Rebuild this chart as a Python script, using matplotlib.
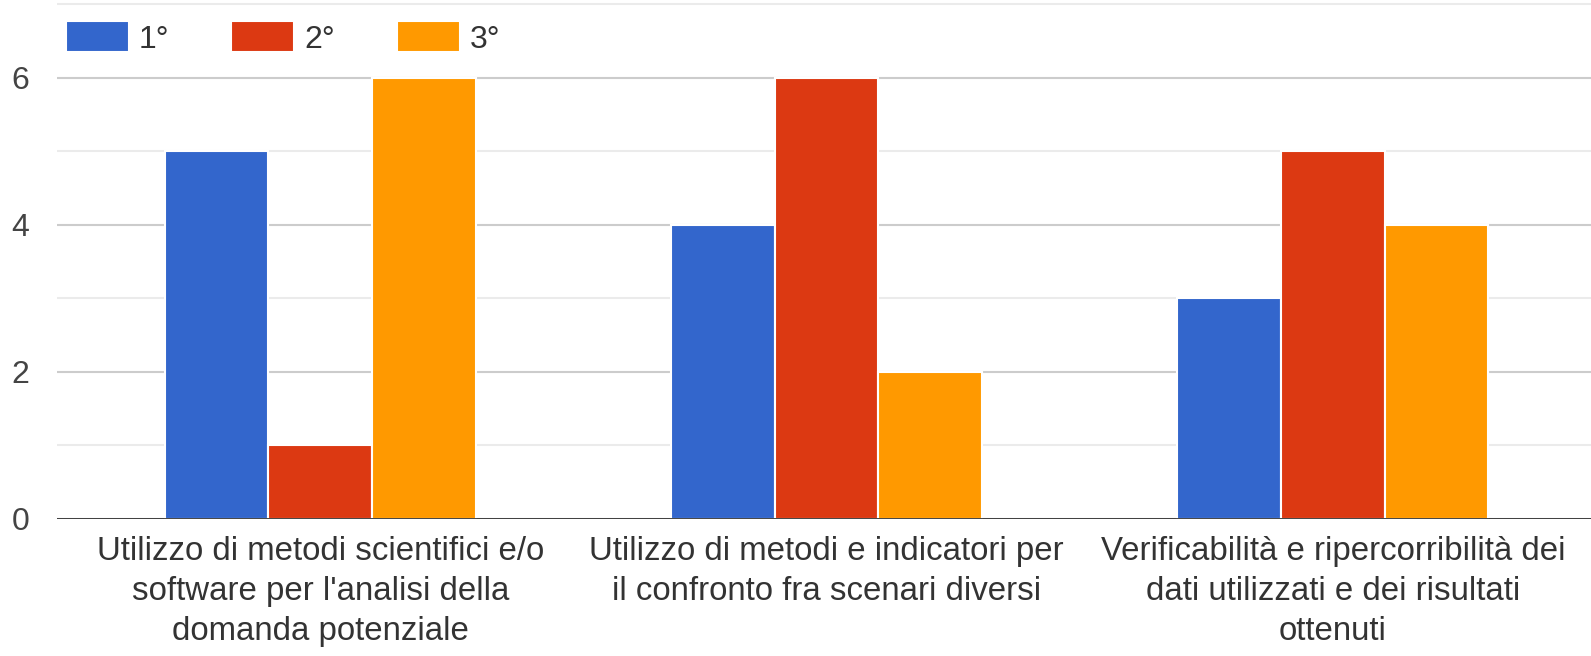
import numpy as np
import matplotlib.pyplot as plt
from matplotlib.ticker import MultipleLocator

plt.rcParams['font.family'] = ['Liberation Sans', 'DejaVu Sans']

# Data
categories = [
    "Utilizzo di metodi scientifici e/o\nsoftware per l'analisi della\ndomanda potenziale",
    "Utilizzo di metodi e indicatori per\nil confronto fra scenari diversi",
    "Verificabilità e ripercorribilità dei\ndati utilizzati e dei risultati\nottenuti",
]
series_names = ["1°", "2°", "3°"]
primo = [5, 4, 3]
secondo = [1, 6, 5]
terzo = [6, 2, 4]
colors = ["#3366CC", "#DC3912", "#FF9900"]

fig = plt.figure(figsize=(15.91, 6.56), dpi=100)
ax = fig.add_axes([57 / 1591, 137 / 656, 1 - 57 / 1591, 1 - 137 / 656])

x = np.arange(len(categories))
width = 0.205
for i, (vals, name, c) in enumerate(zip([primo, secondo, terzo], series_names, colors)):
    ax.bar(x + (i - 1) * width, vals, width, color=c, label=name,
           edgecolor="white", linewidth=1.5, zorder=3)

ax.set_xlim(-0.52, 2.51)
ax.set_ylim(0, 7.06)
ax.yaxis.set_major_locator(MultipleLocator(2))
ax.yaxis.set_minor_locator(MultipleLocator(1))
ax.grid(axis="y", which="major", color="#cccccc", linewidth=1.5, zorder=0)
ax.grid(axis="y", which="minor", color="#ebebeb", linewidth=1.5, zorder=0)
ax.axhline(0, color="#333333", linewidth=2, zorder=4)

for s in ax.spines.values():
    s.set_visible(False)
ax.tick_params(axis="both", which="both", length=0)
ax.tick_params(axis="y", labelsize=23, labelcolor="#444444", pad=20)
ax.set_xticks(x)
ax.set_xticklabels(categories, fontsize=23.8, color="#333333", linespacing=1.38)
ax.tick_params(axis="x", pad=12)

ax.legend(loc="center left", bbox_to_anchor=(47 / 1591, 1 - 38 / 656),
          bbox_transform=fig.transFigure, ncol=3, frameon=False,
          fontsize=23, handlelength=1.97, handleheight=1.1, columnspacing=1.95,
          handletextpad=0.3, borderpad=0.1, labelcolor="#333333")

fig.savefig("out.png", dpi=100)
